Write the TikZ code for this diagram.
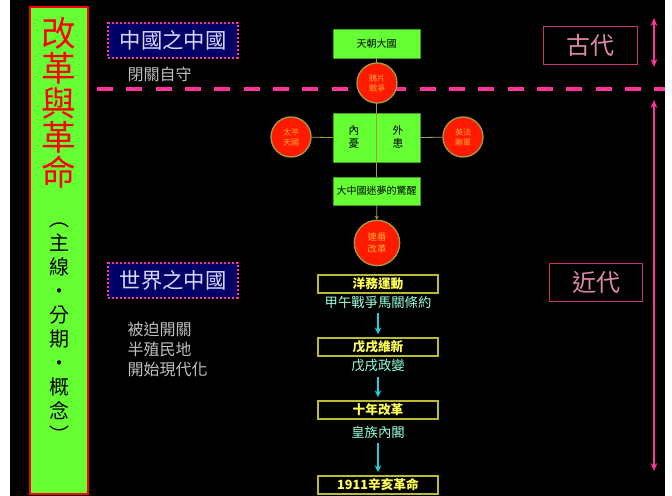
\documentclass[tikz,border=0pt]{standalone}
\usepackage{fontspec}
\setmainfont{Noto Sans CJK TC}
\usetikzlibrary{arrows.meta}
\definecolor{limeg}{HTML}{66FF33}
\definecolor{pinkl}{HTML}{FF3399}
\definecolor{navyb}{HTML}{000066}
\definecolor{oldgold}{HTML}{BBBB33}
\definecolor{yeltxt}{HTML}{FFFF55}
\definecolor{cyanar}{HTML}{22CCDD}
\definecolor{paleg}{HTML}{99FFDD}
\definecolor{roseb}{HTML}{CC3377}
\definecolor{rosetxt}{HTML}{DD88AA}
\definecolor{circr}{HTML}{FF1A00}
\definecolor{circo}{HTML}{FFAA33}
\definecolor{rimg}{HTML}{AA9944}

\begin{document}
\begin{tikzpicture}
		[x=0.75pt,y=-0.75pt,
		gbox/.style={shape=rectangle, fill=limeg, draw=limeg!60!black, line width=0.4pt, minimum width=65pt, minimum height=22pt, inner sep=0pt, font=\fontsize{7.5}{9}\selectfont},
		rcirc/.style={shape=circle, fill=circr, draw=rimg, line width=1pt, minimum size=30pt, inner sep=0pt, align=center, text=circo, font=\fontsize{6}{7.5}\selectfont},
		ybox/.style={shape=rectangle, fill=black, draw=oldgold, line width=0.9pt, minimum width=90pt, minimum height=13.5pt, inner sep=0pt, text=yeltxt, font=\fontsize{9.5}{11}\selectfont\bfseries},
		ctxt/.style={text=paleg, font=\fontsize{10}{12}\selectfont},
		era/.style={shape=rectangle, draw=roseb, line width=0.8pt, minimum width=70pt, minimum height=29pt, text=rosetxt, font=\fontsize{18}{20}\selectfont},
		tagbox/.style={shape=rectangle, fill=navyb, draw=pinkl, line width=1.6pt, dash pattern=on 1.4pt off 1.6pt, minimum width=97pt, minimum height=26pt, text=white!85!blue, font=\fontsize{16}{18}\selectfont},
		gtxt/.style={text=white!75!black, font=\fontsize{12}{15}\selectfont, align=left},
		link/.style={draw=rimg, line width=0.6pt},
		cyarrow/.style={draw=cyanar, line width=1.5pt, -{Stealth[length=5pt,width=5pt]}, shorten <=0pt, shorten >=2.5pt},
		erarrow/.style={draw=pinkl, line width=1.5pt, {Stealth[length=6pt,width=5pt]}-{Stealth[length=6pt,width=5pt]}}]
		\useasboundingbox (0,0) rectangle (672,496);
		\fill[white] (0,0) rectangle (672,496);
		\fill[black] (10,0) rectangle (665,496);
		% title column
		\draw[fill=limeg, draw=red, line width=0.8pt] (30,7) rectangle (88,494);
		\node[text=red, align=center, inner sep=0pt, font=\fontsize{26}{26}\selectfont] (title) at (59,103) {改\\革\\與\\革\\命};
		\node[text=black, align=center, inner sep=0pt, font=\fontsize{15}{18}\selectfont] (sub) at (59,333) {︵\\主\\線\\・\\分\\期\\・\\概\\念\\︶};
		% divider
		\coordinate (dl) at (97,89);
		\coordinate (dr) at (665,89);
		\draw[pinkl, line width=3pt, dash pattern=on 12pt off 10pt] (dl) -- (dr);
		% left tags
		\node[tagbox] (zg) at (173,40.5) {中國之中國};
		\node[gtxt, anchor=west] (bg) at (123,74) {閉關自守};
		\node[tagbox] (sj) at (173,280.5) {世界之中國};
		\node[gtxt, anchor=north west] (bp) at (123,317) {被迫開關\\半殖民地\\開始現代化};
		% eras
		\node[era] (gd) at (590.5,45.5) {古代};
		\node[era] (jd) at (596,282.5) {近代};
		\coordinate (ga1) at (654,18);
		\coordinate (ga2) at (654,67);
		\coordinate (ja1) at (654,100);
		\coordinate (ja2) at (654,471);
		\draw[erarrow] (ga1) -- (ga2);
		\draw[erarrow] (ja1) -- (ja2);
		% ancient to late qing
		\node[gbox] (tc) at (376.5,43.5) {天朝大國};
		\node[gbox, minimum height=37pt] (nw) at (376.5,137.5) {};
		\node[gbox, minimum height=21pt] (jx) at (376.5,191) {大中國迷夢的驚醒};
		\draw[link] (tc) -- (nw.north);
		\draw[link] (nw.north) -- (nw.south);
		\draw[link] (nw) -- (jx);
		\node[rcirc] (yp) at (377,83) {鴉片\\戰爭};
		\node[rcirc] (tp) at (291,137) {太平\\天國};
		\node[rcirc] (yf) at (463,137) {英法\\聯軍};
		\node[rcirc, minimum size=34pt, font=\fontsize{7}{9}\selectfont] (lf) at (377,243) {連番\\改革};
		\node[align=center, inner sep=0pt, font=\fontsize{8}{10}\selectfont] (ny) at (354,137) {內\\憂};
		\node[align=center, inner sep=0pt, font=\fontsize{8}{10}\selectfont] (wh) at (398,137) {外\\患};
		\draw[link] (tp) -- (nw.west);
		\draw[link] (nw.east) -- (yf);
		\draw[link, -{Stealth[length=3pt,width=3pt]}] (jx) -- (lf);
		% reforms
		\node[ybox] (yw) at (378,284) {洋務運動};
		\node[ctxt] (jw) at (378,302) {甲午戰爭馬關條約};
		\node[ybox] (wx) at (378,347) {戊戌維新};
		\node[ctxt] (wb) at (378,366) {戊戌政變};
		\node[ybox] (sn) at (378,410) {十年改革};
		\node[ctxt] (hz) at (378,432) {皇族內閣};
		\node[ybox] (xh) at (378,485) {1911辛亥革命};
		\foreach \from/\to in {jw/wx,wb/sn,hz/xh}
		\draw[cyarrow] (\from) -- (\to);
	\end{tikzpicture}
\end{document}
